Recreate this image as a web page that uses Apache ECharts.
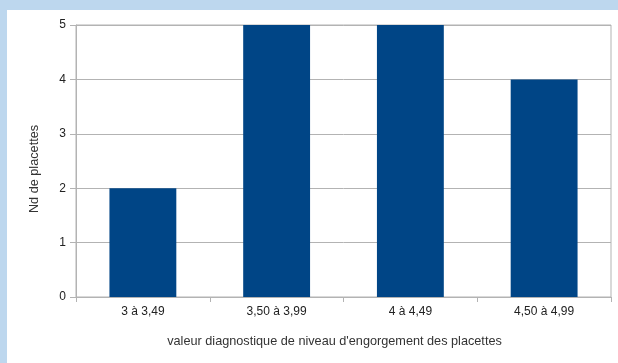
<!DOCTYPE html>
<html>
<head>
<meta charset="utf-8">
<script src="https://cdn.jsdelivr.net/npm/echarts@6/dist/echarts.min.js"></script>
<style>
html,body{margin:0;padding:0;background:#bdd7ee;}
#c{width:618px;height:363px;}
</style>
</head>
<body>
<div id="c"></div>
<script>
const categories = ['3 à 3,49', '3,50 à 3,99', '4 à 4,49', '4,50 à 4,99'];
const values = [2, 5, 5, 4];
const yTicks = [0, 1, 2, 3, 4, 5];

const chart = echarts.init(document.getElementById('c'), null, {renderer: 'canvas'});
chart.setOption({
  backgroundColor: '#bdd7ee',
  animation: false,
  textStyle: {fontFamily: 'Liberation Sans'},
  graphic: [
    {type: 'rect', left: 7, top: 10, shape: {width: 611, height: 353}, style: {fill: '#ffffff'}, z: -10}
  ],
  grid: {left: 76, top: 25, right: 7, bottom: 66, show: true, borderColor: '#b3b3b3', borderWidth: 1, backgroundColor: 'transparent'},
  xAxis: {
    type: 'category',
    data: categories,
    name: 'valeur diagnostique de niveau d\'engorgement des placettes',
    nameLocation: 'middle',
    nameGap: 38,
    nameTextStyle: {fontSize: 12.7, color: '#333333', fontFamily: 'Liberation Sans', padding: [0, 18, 0, 0]},
    axisLine: {lineStyle: {color: '#b3b3b3'}},
    axisTick: {show: true, length: 5, lineStyle: {color: '#b3b3b3'}},
    axisLabel: {fontSize: 12, color: '#222222', margin: 9, fontFamily: 'Liberation Sans'}
  },
  yAxis: {
    type: 'value',
    min: yTicks[0],
    max: yTicks[yTicks.length - 1],
    interval: 1,
    name: 'Nd de placettes',
    nameLocation: 'middle',
    nameGap: 35,
    nameTextStyle: {fontSize: 12.7, color: '#333333', fontFamily: 'Liberation Sans', padding: [0, 16, 0, 0]},
    axisLine: {show: true, lineStyle: {color: '#b3b3b3'}},
    axisTick: {show: true, length: 6, lineStyle: {color: '#b3b3b3'}},
    axisLabel: {fontSize: 12, color: '#222222', margin: 10, fontFamily: 'Liberation Sans'},
    splitLine: {show: true, lineStyle: {color: '#b3b3b3'}}
  },
  series: [{
    type: 'bar',
    data: values,
    barWidth: '50%',
    itemStyle: {color: '#004586'}
  }]
});
</script>
</body>
</html>
